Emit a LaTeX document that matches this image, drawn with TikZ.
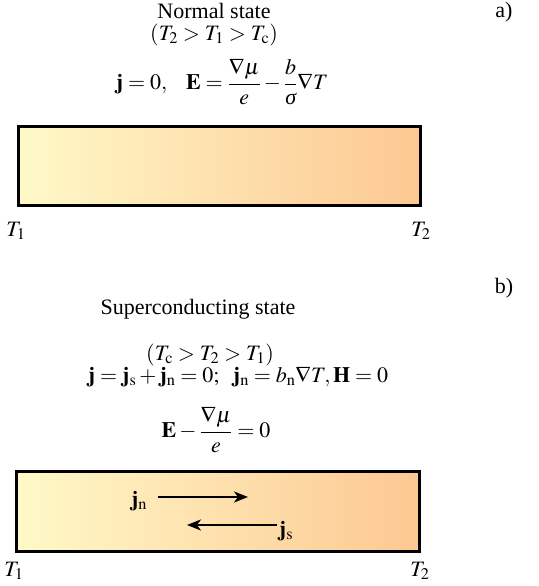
\documentclass[tikz,border=0pt]{standalone}
\usepackage{mathptmx}
\usepackage{amsmath}
\usepackage{fontspec}
\setmainfont{Liberation Serif}
\usetikzlibrary{arrows.meta}
\definecolor{barL}{RGB}{254,249,200}
\definecolor{barR}{RGB}{253,200,146}
\newcommand{\fsz}{\fontsize{22}{26}\selectfont}
\newcommand{\isig}{\text{\itshape σ}}
\begin{document}
\begin{tikzpicture}[x=1pt,y=-1pt,
  every node/.style={font=\fsz, inner sep=0pt},
  barbox/.style={draw=black, line width=3pt, left color=barL, right color=barR, anchor=north west},
  flow/.style={line width=2pt, -{Stealth[length=14pt,width=11pt,inset=4pt]}}]
\useasboundingbox (0,0) rectangle (538,586);
% (a)
\node (la) at (504,12) {a)};
\node (ttl1) at (214,11) {Normal state};
\node (cond1) at (214,35) {$(T_2 > T_1 > T_{\mathrm c})$};
\node (eq1) at (222,82) {$\mathbf{j}=0,\ \ \ \mathbf{E}=\dfrac{\nabla\mu}{e}-\dfrac{b}{\isig}\nabla T$};
\node[barbox, minimum width=402pt, minimum height=79pt] (bar1) at (17,125) {};
\node (t1a) at (16,231) {$T_1$};
\node (t2a) at (421,231) {$T_2$};
% (b)
\node (lb) at (504,288) {b)};
\node (ttl2) at (198,309) {Superconducting state};
\node (cond2) at (210,355) {$(T_{\mathrm c} > T_2 > T_1)$};
\node (eq2) at (238,377) {$\mathbf{j}=\mathbf{j}_{\mathrm s}+\mathbf{j}_{\mathrm n}=0;\ \ \mathbf{j}_{\mathrm n}=b_{\mathrm n}\nabla T,\mathbf{H}=0$};
\node (eq3) at (216,430) {$\mathbf{E}-\dfrac{\nabla\mu}{e}=0$};
\node[barbox, minimum width=403pt, minimum height=80pt] (bar2) at (15,470) {};
\node (t1b) at (14,571) {$T_1$};
\node (t2b) at (420,571) {$T_2$};
\node (jn) at (139,501) {$\mathbf{j}_{\mathrm n}$};
\node (js) at (286,531) {$\mathbf{j}_{\mathrm s}$};
\coordinate (jnS) at (158,497);
\coordinate (jnE) at (248,497);
\coordinate (jsS) at (277,525);
\coordinate (jsE) at (187,525);
\draw[flow] (jnS) -- (jnE);
\draw[flow] (jsS) -- (jsE);
\end{tikzpicture}
\end{document}
